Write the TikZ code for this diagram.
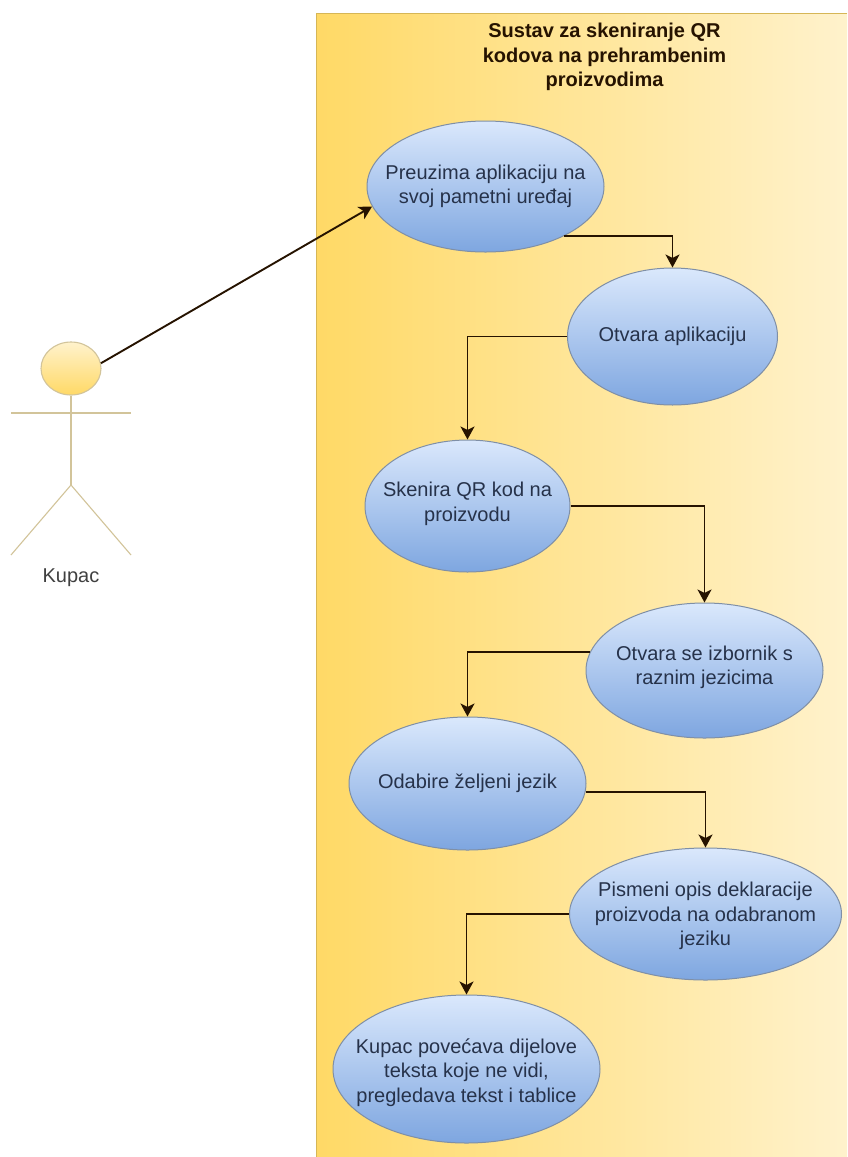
\documentclass[tikz,border=0pt]{standalone}
\usepackage{fontspec}
\setmainfont{Liberation Sans}
\usetikzlibrary{shapes.geometric,arrows.meta}
\definecolor{lanea}{HTML}{FFD966}
\definecolor{laneb}{HTML}{FFF2CC}
\definecolor{lanestroke}{HTML}{D6B656}
\definecolor{uca}{HTML}{DAE8FC}
\definecolor{ucb}{HTML}{7EA6E0}
\definecolor{ucstroke}{HTML}{7F8FA6}
\definecolor{inktext}{HTML}{26324A}
\definecolor{actorline}{HTML}{D2C49A}
\newcommand{\tallfirst}[1]{\rule{0pt}{#1pt}}
\newcommand{\deeplast}[1]{\rule[-#1pt]{0pt}{1pt}}
\tikzset{
  usecase/.style={ellipse,draw=ucstroke,line width=1pt,top color=uca,bottom color=ucb,
    inner xsep=-100pt,inner ysep=-40pt,align=center,text=inktext,font=\fontsize{20}{24.5}\selectfont},
  lane/.style={rectangle,draw=none,left color=lanea,right color=laneb,inner sep=0pt,
    minimum width=531pt,minimum height=1144pt,anchor=north west},
  conn/.style={draw=black!85!orange,line width=1.9pt,-{Stealth[length=13pt,width=14pt,inset=3.5pt]}},
  limb/.style={draw=actorline,line width=1.1pt},
  lanetitle/.style={align=center,font=\fontsize{20}{24.5}\selectfont\bfseries,text=black!85!orange,inner sep=0pt},
  actorlabel/.style={font=\fontsize{20}{24}\selectfont,text=black!75,inner sep=0pt}
}
\begin{document}
\begin{tikzpicture}[x=1pt,y=-1pt]
\path[fill=white,use as bounding box] (0,0) rectangle (847,1157);
\node[lane] (sys) at (316,13) {};
\draw[lanestroke,line width=0.8pt] (sys.south west) -- (sys.north west) -- (sys.north east);
\node[lanetitle] (title) at (604.5,57) {Sustav za skeniranje QR\\kodova na prehrambenim\\proizvodima};
\node[usecase,minimum width=237pt,minimum height=131pt] (e1) at (485.5,186.5) {Preuzima aplikaciju na\\svoj pametni uređaj};
\node[usecase,minimum width=210pt,minimum height=137pt] (e2) at (672.5,336.5) {Otvara aplikaciju};
\node[usecase,minimum width=205pt,minimum height=132pt] (e3) at (467.5,506) {Skenira QR kod na\\proizvodu\deeplast{9}};
\node[usecase,minimum width=237pt,minimum height=135pt] (e4) at (704.5,670.5) {Otvara se izbornik s\\raznim jezicima\deeplast{11}};
\node[usecase,minimum width=237pt,minimum height=133pt] (e5) at (467.5,783.5) {Odabire željeni jezik};
\node[usecase,minimum width=272pt,minimum height=132pt] (e6) at (705.5,914) {\tallfirst{19}Pismeni opis deklaracije\\proizvoda na odabranom\\jeziku};
\node[usecase,minimum width=267pt,minimum height=148pt] (e7) at (466.5,1069) {\tallfirst{22}Kupac povećava dijelove\\teksta koje ne vidi,\\pregledava tekst i tablice};
% actor
\node[ellipse,draw=actorline,line width=1.1pt,top color=laneb,bottom color=lanea,minimum width=60pt,minimum height=53pt,inner sep=0pt] (head) at (71,368.5) {};
\coordinate (armL) at (11,413);
\coordinate (armR) at (131,413);
\coordinate (hip) at (71,485);
\coordinate (legL) at (11,555);
\coordinate (legR) at (131,555);
\draw[limb] (head.south) -- (hip);
\draw[limb] (armL) -- (armR);
\draw[limb] (legL) -- (hip) -- (legR);
\node[actorlabel] (kupac) at (71,578) {Kupac};
% connectors
\draw[conn] (head.10) -- (e1.190);
\draw[conn] (e1.-32) -| (e2.north);
\draw[conn] (e2.180) -| (e3.north);
\draw[conn] (e3.east) -| (e4.north);
\draw[conn] (e4.171) -| (e5.north);
\draw[conn] (e5.-4) -| (e6.north);
\draw[conn] (e6.west) -| (e7.north);
\end{tikzpicture}
\end{document}
